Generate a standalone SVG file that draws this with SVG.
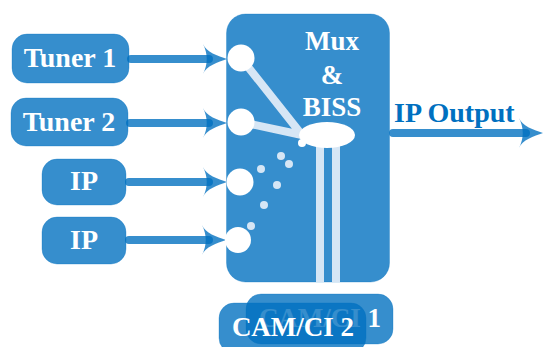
<svg xmlns="http://www.w3.org/2000/svg" width="543" height="347" viewBox="0 0 543 347">
<style>
.box{fill:#0070c0;fill-opacity:.79;stroke:#0070c0;stroke-opacity:.3;stroke-width:1}
.t{font-family:"Liberation Serif",serif;font-weight:bold;font-size:28px;fill:#fff;text-anchor:middle}
.s{font-size:27px}
.wire{stroke:#0070c0;stroke-opacity:.79;stroke-width:8;stroke-linecap:round;fill:none}
.head{fill:#0070c0;fill-opacity:.79}
.link{stroke:#d6e6f5;stroke-width:8;fill:none}
.port{fill:#fff}
.dot{fill:#d6e6f5}
</style>
<defs>
<path id="h" d="M0 0C-9 3-21 7-24 15C-19 5-19-5-24-15C-21-7-9-3 0 0Z"/>
</defs>
<g id="mux"><rect class="box" x="226.500" y="14" width="163" height="268" rx="19"/>
<text class="t s" x="332" y="50">Mux</text><text class="t s" x="332" y="84">&amp;</text><text class="t s" x="332" y="116">BISS</text></g>
<g id="connectors">
<path class="link" d="M241 58L302 135M241 122L302 135M320 145V282M336 145V282"/>
<path class="wire" d="M131 59H209M130 123H209M129 182H209M129 240H209M393 133H526"/>
<use href="#h" class="head" x="227" y="59"/><use href="#h" class="head" x="227" y="123"/><use href="#h" class="head" x="227" y="182"/><use href="#h" class="head" x="226" y="240"/><use href="#h" class="head" x="543" y="133"/>
</g>
<g id="tuner1"><rect class="box" x="12" y="34" width="117" height="49" rx="15"/><text class="t" x="70" y="67">Tuner 1</text></g>
<g id="tuner2"><rect class="box" x="11" y="98" width="117" height="48" rx="15"/><text class="t" x="69" y="131">Tuner 2</text></g>
<g id="ip1"><rect class="box" x="42" y="159" width="84" height="46" rx="15"/><text class="t" x="84" y="190">IP</text></g>
<g id="ip2"><rect class="box" x="42" y="217" width="84" height="47" rx="15"/><text class="t" x="84" y="249">IP</text></g>
<g id="ports">
<circle class="port" cx="241" cy="58" r="13.500"/><circle class="port" cx="241" cy="122" r="13.500"/><circle class="port" cx="240" cy="182" r="13.500"/><circle class="port" cx="238" cy="240" r="13"/>
<ellipse class="port" cx="327" cy="135" rx="28" ry="13"/><circle class="port" cx="302" cy="143" r="4"/>
<circle class="dot" cx="281" cy="156" r="4"/><circle class="dot" cx="289" cy="164" r="4"/><circle class="dot" cx="261" cy="169" r="4"/><circle class="dot" cx="277" cy="185" r="4"/><circle class="dot" cx="264" cy="205" r="4"/><circle class="dot" cx="251" cy="226" r="4"/>
</g>
<g id="output"><text x="394" y="122" style="font-family:'Liberation Serif',serif;font-weight:bold;font-size:28px;fill:#0070c0">IP Output</text></g>
<g id="cam1"><rect class="box" x="246" y="294" width="147" height="50" rx="15"/><text class="t s" x="320" y="327">CAM/CI 1</text></g>
<g id="cam2"><rect class="box" x="219" y="303" width="147" height="50" rx="15"/><text class="t s" x="293" y="336">CAM/CI 2</text></g>
</svg>
